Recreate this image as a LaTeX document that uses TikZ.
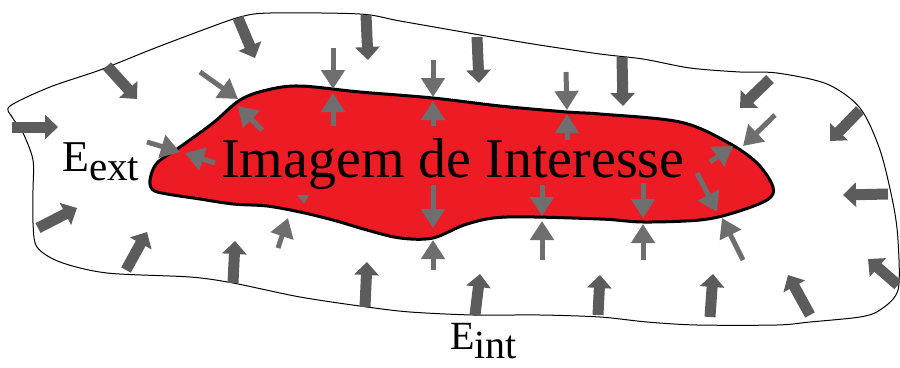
\documentclass[tikz,border=0pt]{standalone}
\usepackage{fontspec}
\setmainfont{Liberation Serif}
\usetikzlibrary{arrows.meta}
\definecolor{roi}{HTML}{ED1C24}
\definecolor{bigarrow}{HTML}{5C5C5C}
\definecolor{smallarrow}{HTML}{6E6E6E}

\begin{document}
\begin{tikzpicture}[x=1pt,y=-1pt,
		outer curve/.style={black, line width=1pt},
		roi region/.style={fill=roi, draw=black, line width=3pt, line join=round},
		big arrow/.style={bigarrow, line width=11pt, -{Triangle[length=13pt,width=24pt]}},
		small arrow/.style={smallarrow, line width=5pt, -{Triangle[length=19pt,width=23pt]}},
		label style/.style={inner sep=0pt, anchor=base west}
		]
		\useasboundingbox (0,0) rectangle (900,367);
		
		% contour
		\draw[outer curve] plot[smooth cycle, tension=0.5] coordinates {
			(10,106) (50,87) (100,70) (150,50) (200,31) (240,17) (270,13) (360,14)
			(400,21) (480,35) (533,44) (600,54) (643,59) (690,68) (740,72) (777,73)
			(827,84) (860,108) (880,150) (893,203) (898,240) (898,290) (880,310)
			(860,317) (810,322) (777,325) (697,325) (647,322) (600,317) (540,315)
			(473,315) (410,312) (367,307) (300,297) (233,283) (190,277) (107,273)
			(60,262) (37,247) (33,223) (33,190) (33,160) (23,133) (12,117)};
		
		% image of interest
		\draw[roi region] plot[smooth cycle, tension=0.55] coordinates {
			(150,180) (157,163) (180,147) (213,123) (240,100) (267,90) (300,86)
			(360,92) (433,98) (500,106) (567,112) (600,114) (680,122) (727,142)
			(757,163) (773,187) (767,200) (733,213) (700,220) (643,222) (600,219)
			(507,217) (467,224) (433,238) (400,238) (367,230) (333,220) (300,212)
			(267,206) (233,204) (200,199) (167,194) (153,190)};
		
		\node[label style, font=\rmfamily\fontsize{56}{56}\selectfont] (roi text) at (221,177) {Imagem de Interesse};
		\node[label style, font=\rmfamily\fontsize{44}{44}\selectfont] (eext) at (62,171) {E\raisebox{-9pt}{\rmfamily\fontsize{41}{41}\selectfont ext}};
		\node[label style, font=\rmfamily\fontsize{40}{40}\selectfont] (eint) at (450,349) {E\raisebox{-9pt}{\rmfamily\fontsize{40}{40}\selectfont int}};
		
		% external forces
		\draw[big arrow] (12,127) -- (58,127);
		\draw[big arrow] (107,66) -- (137,99);
		\draw[big arrow] (238,18) -- (255,58);
		\draw[big arrow] (366,15) -- (368,60);
		\draw[big arrow] (477,37) -- (479,83);
		\draw[big arrow] (622,57) -- (623,106);
		\draw[big arrow] (770,79) -- (740,108);
		\draw[big arrow] (860,110) -- (830,141);
		\draw[big arrow] (888,194) -- (843,195);
		\draw[big arrow] (898,285) -- (868,259);
		\draw[big arrow] (810,315) -- (788,275);
		\draw[big arrow] (710,317) -- (713,274);
		\draw[big arrow] (598,315) -- (600,275);
		\draw[big arrow] (475,315) -- (480,274);
		\draw[big arrow] (365,307) -- (367,262);
		\draw[big arrow] (233,283) -- (235,241);
		\draw[big arrow] (126,270) -- (147,232);
		\draw[big arrow] (38,228) -- (77,208);
		
		% internal forces
		\draw[small arrow] (333,48) -- (333,89);
		\draw[small arrow] (333,126) -- (333,93);
		\draw[small arrow] (433,60) -- (433,97);
		\draw[small arrow] (433,126) -- (433,101);
		\draw[small arrow] (566,72) -- (567,110);
		\draw[small arrow] (567,140) -- (567,114);
		\draw[small arrow] (433,185) -- (433,228);
		\draw[small arrow] (433,270) -- (433,240);
		\draw[small arrow] (542,185) -- (542,216);
		\draw[small arrow] (542,260) -- (542,221);
		\draw[small arrow] (643,183) -- (643,218);
		\draw[small arrow] (643,260) -- (643,224);
		\draw[small arrow] (775,115) -- (743,146);
		\draw[small arrow] (710,162) -- (733,146);
		\draw[small arrow] (697,173) -- (717,212);
		\draw[small arrow] (743,260) -- (722,218);
		\draw[small arrow] (200,72) -- (238,99);
		\draw[small arrow] (262,130) -- (238,106);
		\draw[small arrow] (147,142) -- (180,152);
		\draw[small arrow] (215,163) -- (185,153);
		\draw[small arrow] (278,248) -- (288,218);
		\fill[smallarrow] (297,195) -- (309,195) -- (304,204) -- cycle;
	\end{tikzpicture}
\end{document}
